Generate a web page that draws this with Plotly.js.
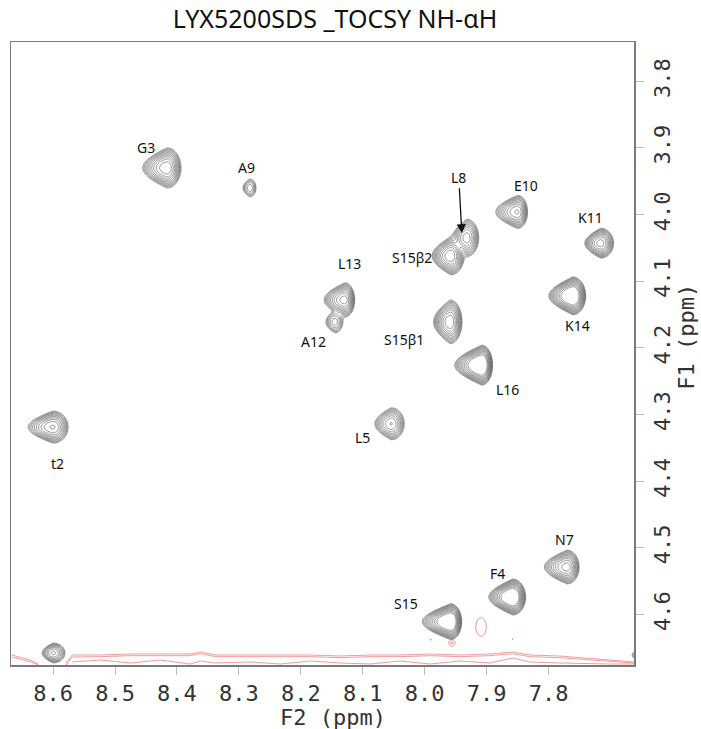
<!DOCTYPE html>
<html><head><meta charset="utf-8">
<script src="https://cdn.plot.ly/plotly-3.0.1.min.js"></script>
<style>html,body{margin:0;padding:0;background:#fff}</style>
</head><body><div id="chart" style="width:701px;height:729px"></div>
<script>
// ---- peak list ----
const peakLabels = ['G3','A9','E10','L8','S15β2','K11','K14','L13','A12','S15β1','L16','L5','t2','N7','F4','S15','',''];
const peakF2 = [8.416, 8.282, 7.850, 7.932, 7.958, 7.716, 7.761, 8.129, 8.145, 7.959, 7.908, 8.054, 8.600, 7.770, 7.858, 7.958, 8.600, 7.655];
const peakF1 = [3.930, 3.960, 3.996, 4.035, 4.062, 4.043, 4.122, 4.128, 4.161, 4.161, 4.226, 4.314, 4.319, 4.529, 4.574, 4.611, 4.658, 4.661];
const peakAmp = [40, 6, 30, 25, 40, 35, 80, 35, 8, 40, 90, 20, 30, 35, 80, 80, 15, 4];
const peakWidthLeft = [0.0145, 0.006, 0.0135, 0.009, 0.011, 0.0095, 0.013, 0.0125, 0.0071, 0.0098, 0.0145, 0.0108, 0.0155, 0.0138, 0.013, 0.0155, 0.0076, 0.006];
const peakWidthRight = [0.0083, 0.0051, 0.0062, 0.0076, 0.008, 0.0079, 0.0071, 0.006, 0.0063, 0.0071, 0.0059, 0.0086, 0.0093, 0.0073, 0.0071, 0.006, 0.0083, 0.006];
const peakWidthF1 = [0.0111, 0.0071, 0.0095, 0.011, 0.0105, 0.0084, 0.0096, 0.0096, 0.0081, 0.0121, 0.0100, 0.0098, 0.0092, 0.0095, 0.0091, 0.0091, 0.0064, 0.005];

// label placement (ppm)
const labelF2 = [8.450, 8.288, 7.837, 7.945, 8.020, 7.733, 7.753, 8.122, 8.179, 8.033, 7.867, 8.101, 8.593, 7.774, 7.883, 8.030];
const labelF1 = [3.899, 3.930, 3.956, 3.944, 4.064, 4.004, 4.166, 4.074, 4.191, 4.188, 4.263, 4.334, 4.374, 4.488, 4.538, 4.584];
const arrowTipF2 = 7.940, arrowTipF1 = 4.028;

// negative (red) peaks
const negF2 = [7.909, 7.956, 7.990, 7.858];
const negF1 = [4.619, 4.643, 4.638, 4.637];
const negAmp = [2.0, 2.6, 1.4, 1.4];
const negWidthF2 = [0.0072, 0.0038, 0.0015, 0.0015];
const negWidthF1 = [0.0118, 0.0035, 0.0015, 0.0015];

// baseline (t1-noise) negative contour lines
const redX = [8.667, 8.653, 8.637, 8.624, 8.600, 8.579, 8.569, 8.524, 8.475, 8.427, 8.379, 8.362, 8.338, 8.282, 8.233, 8.185, 8.137, 8.088, 8.040, 7.991, 7.943, 7.895, 7.858, 7.830, 7.782, 7.733, 7.701, 7.662];
const redY1 = [4.661, 4.664, 4.6685, 4.6745, null, 4.673, 4.661, 4.661, 4.6595, 4.6595, 4.6595, 4.6565, 4.661, 4.661, 4.661, 4.661, 4.6625, 4.661, 4.661, 4.6595, 4.661, 4.6595, 4.6565, 4.661, 4.6625, 4.6655, 4.6685, 4.6715];
const redY2 = [4.664, 4.667, 4.671, 4.676, null, 4.676, 4.664, 4.6635, 4.662, 4.662, 4.662, 4.659, 4.6635, 4.6635, 4.6635, 4.6635, 4.665, 4.6635, 4.6635, 4.662, 4.6635, 4.662, 4.659, 4.6635, 4.665, 4.668, 4.6705, 4.673];
const redY3 = [null, null, null, null, null, null, 4.6715, 4.6685, 4.673, 4.6685, 4.6745, 4.670, 4.673, 4.6715, 4.6745, 4.670, 4.673, 4.6745, 4.670, 4.6745, 4.670, 4.673, 4.6655, 4.6715, 4.673, 4.6745, 4.6745, 4.6745];

const xTicks = [8.6, 8.5, 8.4, 8.3, 8.2, 8.1, 8.0, 7.9, 7.8];
const yTicks = [3.8, 3.9, 4.0, 4.1, 4.2, 4.3, 4.4, 4.5, 4.6];
const xTitle = 'F2 (ppm)', yTitle = 'F1 (ppm)';

// ---- build spectrum grid ----
const xr = [8.668, 7.662], yr = [4.676, 3.741];
const step = 0.002;
const gx = [], gy = [];
for (let v = 7.650; v <= 8.680; v += step) gx.push(+v.toFixed(4));
for (let v = 3.735; v <= 4.685; v += step) gy.push(+v.toFixed(4));
function peakVal(i, x, y) {
  const dx = x - peakF2[i];
  const sx = dx > 0 ? peakWidthLeft[i] : peakWidthRight[i];
  if (Math.abs(dx) > 6 * sx) return 0;
  let sy = peakWidthF1[i];
  if (dx > 0) sy = sy / (1 + 0.2 * dx / peakWidthLeft[i]);
  const dy = y - peakF1[i];
  if (Math.abs(dy) > 6 * sy) return 0;
  return peakAmp[i] * Math.exp(-0.5 * (dx * dx / (sx * sx) + dy * dy / (sy * sy)));
}
const z = [], zn = [];
for (let j = 0; j < gy.length; j++) {
  const row = [], rown = [];
  for (let k = 0; k < gx.length; k++) {
    let s = 0;
    for (let i = 0; i < peakF2.length; i++) s += peakVal(i, gx[k], gy[j]);
    row.push(Math.log(s + 1e-6));
    let n = 0;
    for (let i = 0; i < negF2.length; i++) {
      const dx = gx[k] - negF2[i], dy = gy[j] - negF1[i];
      n += negAmp[i] * Math.exp(-0.5 * (dx * dx / (negWidthF2[i] ** 2) + dy * dy / (negWidthF1[i] ** 2)));
    }
    rown.push(Math.log(n + 1e-6));
  }
  z.push(row); zn.push(rown);
}
const f = Math.log(1.45);
const traces = [
  {type: 'contour', x: gx, y: gy, z: z, showscale: false, hoverinfo: 'skip',
   contours: {coloring: 'none', start: 0, end: 9 * f + 1e-6, size: f},
   line: {color: '#3a3a3a', width: 0.55, smoothing: 0.8}},
  {type: 'contour', x: gx, y: gy, z: zn, showscale: false, hoverinfo: 'skip',
   contours: {coloring: 'none', start: 0, end: Math.log(3) + 1e-6, size: Math.log(2.2)},
   line: {color: '#f07070', width: 0.8, smoothing: 0.8}},
  {type: 'scatter', mode: 'lines', x: redX, y: redY1, line: {color: '#f28080', width: 0.8}, hoverinfo: 'skip', connectgaps: false},
  {type: 'scatter', mode: 'lines', x: redX, y: redY2, line: {color: '#f28080', width: 0.8}, hoverinfo: 'skip', connectgaps: false},
  {type: 'scatter', mode: 'lines', x: redX, y: redY3, line: {color: '#f28080', width: 0.8}, hoverinfo: 'skip', connectgaps: false}
];

const annotations = [];
for (let i = 0; i < labelF2.length; i++) {
  const a = {x: labelF2[i], y: labelF1[i], xref: 'x', yref: 'y', text: peakLabels[i], showarrow: false,
    font: {family: 'Noto Sans', size: 14, color: '#111'}};
  if (peakLabels[i] === 'L8') {
    Object.assign(a, {x: arrowTipF2, y: arrowTipF1, ax: labelF2[i], ay: labelF1[i], axref: 'x', ayref: 'y',
      showarrow: true, arrowhead: 2, arrowsize: 1.4, arrowwidth: 1.3, arrowcolor: '#111'});
  }
  annotations.push(a);
}
// axis titles
const titleFont = {family: 'DejaVu Sans Mono', size: 22, color: '#333'};
annotations.push({text: xTitle, xref: 'paper', yref: 'paper', x: 0.517, y: -0.085, xanchor: 'center', yanchor: 'middle',
  showarrow: false, font: titleFont});
annotations.push({text: yTitle, xref: 'paper', yref: 'paper', x: 1.085, y: 0.527, xanchor: 'center', yanchor: 'middle',
  textangle: -90, showarrow: false, font: titleFont});

const tickFont = {family: 'DejaVu Sans Mono', size: 22, color: '#333'};
const layout = {
  width: 701, height: 729,
  margin: {l: 11, r: 67, t: 42, b: 64},
  paper_bgcolor: '#fff', plot_bgcolor: '#fff',
  showlegend: false,
  title: {text: 'LYX5200SDS _TOCSY NH-αH', x: 0.478, xref: 'container', xanchor: 'center',
          y: 1 - 19 / 729, yref: 'container', yanchor: 'middle',
          font: {family: 'Noto Sans', size: 25, color: '#111'}},
  xaxis: {range: xr, tickmode: 'array', tickvals: xTicks, ticktext: xTicks.map(v => v.toFixed(1)),
    ticks: 'outside', ticklen: 8, tickcolor: '#bbb', tickwidth: 1, tickfont: tickFont,
    showgrid: false, zeroline: false, showline: true, mirror: true, linecolor: '#7a7a7a', linewidth: 1.5},
  yaxis: {range: yr, side: 'right', tickmode: 'array', tickvals: yTicks, ticktext: yTicks.map(v => v.toFixed(1)),
    ticks: 'outside', ticklen: 8, tickcolor: '#bbb', tickwidth: 1, tickfont: tickFont, tickangle: -90,
    showgrid: false, zeroline: false, showline: true, mirror: true, linecolor: '#7a7a7a', linewidth: 1.5},
  annotations: annotations
};
Plotly.newPlot('chart', traces, layout, {staticPlot: true, displayModeBar: false});
</script>
</body></html>
